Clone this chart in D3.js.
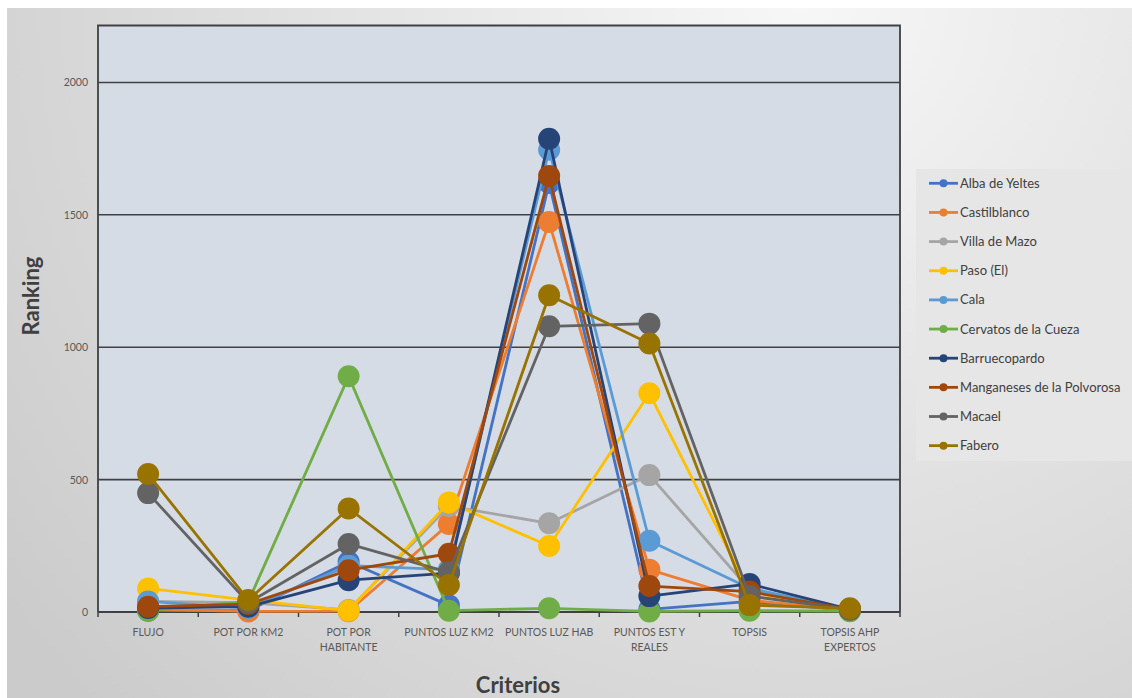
<!DOCTYPE html>
<html><head><meta charset="utf-8">
<script src="https://cdn.jsdelivr.net/npm/d3@7"></script>
<style>
html,body{margin:0;padding:0;background:#fff;}
svg{display:block;font-family:Lato,"Open Sans",sans-serif;}
</style></head>
<body>
<svg id="c" width="1132" height="698"></svg>
<script>
const categories = ["FLUJO","POT POR KM2","POT POR HABITANTE","PUNTOS LUZ KM2","PUNTOS LUZ HAB","PUNTOS EST Y REALES","TOPSIS","TOPSIS AHP EXPERTOS"];
const categoryLines = [["FLUJO"],["POT POR KM2"],["POT POR","HABITANTE"],["PUNTOS LUZ KM2"],["PUNTOS LUZ HAB"],["PUNTOS EST Y","REALES"],["TOPSIS"],["TOPSIS AHP","EXPERTOS"]];
const seriesNames = ["Alba de Yeltes","Castilblanco","Villa de Mazo","Paso (El)","Cala","Cervatos de la Cueza","Barruecopardo","Manganeses de la Polvorosa","Macael","Fabero"];
const seriesColors = ["#4472C4","#ED7D31","#A5A5A5","#FFC000","#5B9BD5","#70AD47","#264478","#9E480E","#636363","#997300"];
const albaDeYeltes   = [5, 5, 190, 25, 1620, 10, 40, 5];
const castilblanco   = [10, 2, 3, 332, 1473, 160, 45, 6];
const villaDeMazo    = [40, 35, 8, 400, 335, 517, 85, 8];
const paso           = [89, 45, 5, 414, 249, 826, 75, 10];
const cala           = [40, 15, 175, 160, 1746, 269, 90, 8];
const cervatos       = [5, 40, 890, 5, 14, 2, 5, 3];
const barruecopardo  = [15, 20, 120, 147, 1787, 60, 106, 10];
const manganeses     = [20, 30, 158, 220, 1647, 98, 77, 10];
const macael         = [449, 35, 257, 150, 1079, 1089, 60, 10];
const fabero         = [521, 45, 391, 102, 1196, 1014, 26, 14];
const yTicks = [0, 500, 1000, 1500, 2000];
const yMax = 2215;
const seriesValues = [albaDeYeltes, castilblanco, villaDeMazo, paso, cala, cervatos, barruecopardo, manganeses, macael, fabero];

const svg = d3.select("#c");
const defs = svg.append("defs");
const rg = defs.append("radialGradient").attr("id","bg").attr("gradientUnits","userSpaceOnUse")
  .attr("cx",800).attr("cy",0).attr("r",1000);
rg.append("stop").attr("offset","0").attr("stop-color","#f7f7f7");
rg.append("stop").attr("offset","1").attr("stop-color","#cbcbcb");
svg.append("rect").attr("x",7).attr("y",8).attr("width",1125).attr("height",690).attr("fill","url(#bg)");

const L = 98, R = 900, T = 25.5, B = 612;
const x = d3.scaleBand().domain(categories).range([L, R]);
const y = d3.scaleLinear().domain([0, yMax]).range([B, T]);

svg.append("rect").attr("x",L).attr("y",T).attr("width",R-L).attr("height",B-T).attr("fill","#d6dce5");

// gridlines
svg.append("g").selectAll("line").data(yTicks.filter(d=>d>0)).join("line")
  .attr("x1",L).attr("x2",R).attr("y1",d=>y(d)).attr("y2",d=>y(d))
  .attr("stroke","#404040").attr("stroke-width",1.6);
// border top/left/right
svg.append("path").attr("d",`M${L},${B}V${T}H${R}V${B}`).attr("fill","none").attr("stroke","#404040").attr("stroke-width",1.8);

// x axis
const xAxis = svg.append("g").attr("transform",`translate(0,${B})`);
xAxis.append("line").attr("x1",L).attr("x2",R).attr("stroke","#404040").attr("stroke-width",1.8);
const bounds = categories.map(c=>x(c)).concat([R]);
xAxis.selectAll("line.t").data(bounds).join("line").attr("class","t")
  .attr("x1",d=>d).attr("x2",d=>d).attr("y1",0).attr("y2",5).attr("stroke","#404040").attr("stroke-width",1.5);
const lab = xAxis.selectAll("text").data(categories).join("text")
  .attr("x",d=>x(d)+x.bandwidth()/2).attr("y",24)
  .attr("text-anchor","middle").attr("fill","#595959").attr("font-size",10.5);
lab.each(function(d,i){
  const t = d3.select(this);
  categoryLines[i].forEach((s,j)=>t.append("tspan").attr("x",x(d)+x.bandwidth()/2).attr("dy",j?15:0).text(s));
});

// y axis labels
svg.append("g").selectAll("text").data(yTicks).join("text")
  .attr("x",88).attr("y",d=>y(d)+4).attr("text-anchor","end")
  .attr("fill","#595959").attr("font-size",10.5).text(d=>d);

// axis titles
svg.append("text").attr("transform","translate(39,296) rotate(-90)").attr("text-anchor","middle")
  .attr("fill","#404040").attr("font-size",22).attr("font-weight","bold").text("Ranking");
svg.append("text").attr("x",518).attr("y",693).attr("text-anchor","middle")
  .attr("fill","#404040").attr("font-size",22).attr("font-weight","bold").text("Criterios");

// series
const line = d3.line().x((d,i)=>x(categories[i])+x.bandwidth()/2).y(d=>y(d));
const sg = svg.append("g");
seriesValues.forEach((vals,k)=>{
  const g = sg.append("g");
  g.append("path").attr("d",line(vals)).attr("fill","none").attr("stroke",seriesColors[k]).attr("stroke-width",2.8).attr("stroke-linejoin","round");
  g.selectAll("circle").data(vals).join("circle")
    .attr("cx",(d,i)=>x(categories[i])+x.bandwidth()/2).attr("cy",d=>y(d)).attr("r",11)
    .attr("fill",seriesColors[k]);
});

// legend
svg.append("rect").attr("x",916).attr("y",169).attr("width",216).attr("height",292).attr("fill","#e6e6e6");
const lg = svg.append("g").selectAll("g").data(seriesNames).join("g")
  .attr("transform",(d,i)=>`translate(0,${183.3+i*29.15})`);
lg.append("line").attr("x1",929).attr("x2",958).attr("stroke",(d,i)=>seriesColors[i]).attr("stroke-width",2.8);
lg.append("circle").attr("cx",943.5).attr("r",4).attr("fill",(d,i)=>seriesColors[i]);
lg.append("text").attr("x",960).attr("y",4.5).attr("fill","#404040").attr("font-size",13).text(d=>d);
</script>
</body></html>
